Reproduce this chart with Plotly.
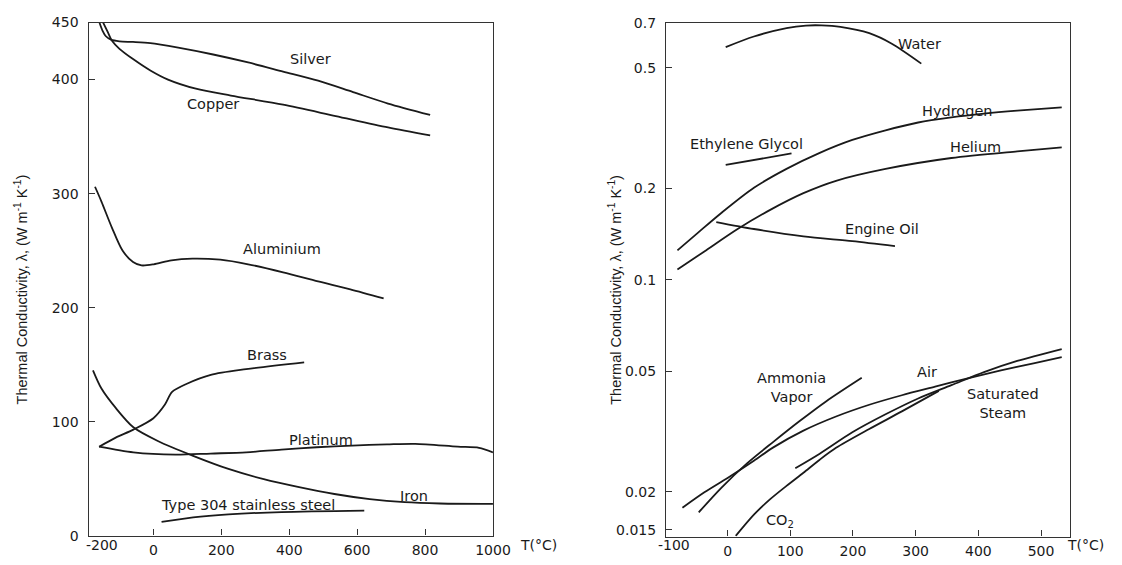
import numpy as np
import plotly.graph_objects as go

# ---------------- Left panel: metals (linear) ----------------
silver_T = [-159, -150, -140, -125, -100, -60, -9, 73, 176, 279, 382, 485, 588, 691, 815]
silver_k = [450, 443, 438, 435, 433.5, 433, 432, 428, 422, 415, 407, 399, 389, 379, 369]

copper_T = [-148, -135, -122, -100, -60, -9, 43, 125, 228, 382, 537, 691, 815]
copper_k = [450, 442, 434, 427, 418, 408, 400, 392, 386, 378, 368, 358, 351]

alu_T = [-172, -153, -122, -91, -60, -35, 1, 53, 115, 197, 279, 382, 485, 580, 678]
alu_k = [306, 293, 270, 250, 240, 237, 238, 241.5, 243, 242, 238, 231, 223, 216, 208]

brass_T = [-160, -111, -59, 0, 34, 55, 97, 169, 273, 444]
brass_k = [78, 86, 93, 103, 115, 126, 133, 141, 146, 152]

plat_T = [-160, -59, 65, 169, 273, 377, 481, 585, 688, 771, 896, 959, 1000]
plat_k = [78, 73, 71, 72, 73, 75.5, 77.5, 79, 80, 80.5, 78, 77, 73]

iron_T = [-178, -153, -111, -59, 13, 117, 221, 325, 429, 533, 637, 740, 844, 1000]
iron_k = [145, 129, 112, 95, 83, 70, 58.5, 49.5, 42.5, 36.5, 32, 29.3, 28.2, 27.8]

ss_T = [24, 117, 221, 377, 621]
ss_k = [12, 16, 18.6, 20.7, 22]

left_xticks = [0, 200, 400, 600, 800, 1000]
left_yticks = [0, 100, 200, 300, 400, 450]

# ---------------- Right panel: fluids (log) ----------------
water_T = [-3, 42, 94, 125, 150, 180, 226, 262, 309]
water_k = [0.585, 0.634, 0.676, 0.689, 0.690, 0.682, 0.650, 0.600, 0.516]

hyd_T = [-80, -47, -10, 42, 94, 147, 199, 252, 304, 357, 409, 462, 533]
hyd_k = [0.125, 0.143, 0.166, 0.201, 0.232, 0.262, 0.289, 0.311, 0.330, 0.343, 0.353, 0.361, 0.370]

hel_T = [-80, -37, 16, 68, 121, 173, 252, 357, 462, 533]
hel_k = [0.108, 0.124, 0.147, 0.170, 0.193, 0.212, 0.232, 0.252, 0.265, 0.273]

eg_T = [-3, 102]
eg_k = [0.239, 0.261]

oil_T = [-18, 42, 121, 199, 267]
oil_k = [0.155, 0.147, 0.139, 0.134, 0.129]

air_T = [-72, -37, 0, 42, 73, 121, 173, 226, 278, 331, 383, 436, 488, 533]
air_k = [0.0177, 0.0199, 0.0222, 0.0253, 0.0280, 0.0318, 0.0354, 0.0387, 0.0416, 0.0444, 0.0473, 0.0502, 0.0530, 0.0556]

steam_T = [108, 147, 199, 252, 304, 357, 409, 462, 533]
steam_k = [0.0239, 0.0267, 0.0314, 0.0360, 0.0406, 0.0449, 0.0496, 0.0540, 0.0591]

co2_T = [13, 42, 68, 94, 121, 147, 173, 226, 278, 337]
co2_k = [0.0143, 0.0168, 0.0189, 0.0209, 0.0231, 0.0255, 0.0279, 0.0322, 0.0368, 0.0430]

nh3_T = [-46, -10, 31, 73, 115, 157, 214]
nh3_k = [0.0171, 0.0206, 0.0248, 0.0292, 0.0342, 0.0397, 0.0475]

right_xticks = [0, 100, 200, 300, 400, 500]
right_yticks = [0.015, 0.02, 0.05, 0.1, 0.2, 0.5, 0.7]
right_yticktext = ["0.015", "0.02", "0.05", "0.1", "0.2", "0.5", "0.7"]

FONT = "DejaVu Sans, Verdana, sans-serif"
TFONT = "Liberation Sans, Arial, sans-serif"
INK = "#1a1a1a"
W, H = 1122, 565

fig = go.Figure()

line = dict(color=INK, width=1.8, shape="spline", smoothing=0.8)
for T, k in [(silver_T, silver_k), (copper_T, copper_k), (alu_T, alu_k), (brass_T, brass_k),
             (plat_T, plat_k), (iron_T, iron_k), (ss_T, ss_k)]:
    fig.add_trace(go.Scatter(x=T, y=k, mode="lines", line=line, xaxis="x", yaxis="y",
                             showlegend=False, hoverinfo="skip"))

for T, k in [(water_T, water_k), (hyd_T, hyd_k), (hel_T, hel_k), (eg_T, eg_k), (oil_T, oil_k),
             (air_T, air_k), (steam_T, steam_k), (co2_T, co2_k), (nh3_T, nh3_k)]:
    fig.add_trace(go.Scatter(x=T, y=k, mode="lines", line=line, xaxis="x2", yaxis="y2",
                             showlegend=False, hoverinfo="skip"))

axis_common = dict(showline=True, linecolor="#333", linewidth=1.4, mirror=True,
                   ticks="inside", ticklen=6, tickcolor="#333", showgrid=False, zeroline=False,
                   tickfont=dict(family=FONT, size=14, color=INK))

fig.update_layout(
    width=W, height=H, autosize=False,
    margin=dict(l=0, r=0, t=0, b=0),
    paper_bgcolor="white", plot_bgcolor="white",
    xaxis=dict(domain=[90 / W, 501 / W], range=[-191, 1000], tickvals=left_xticks,
               anchor="y", ticklabelstandoff=1, **axis_common),
    yaxis=dict(domain=[1 - 543 / H, 1 - 15 / H], range=[0, 450], tickvals=left_yticks,
               anchor="x", ticklabelstandoff=6, **axis_common),
    xaxis2=dict(domain=[677 / W, 1087 / W], range=[-98, 545.5], tickvals=right_xticks,
                anchor="y2", ticklabelstandoff=1, **axis_common),
    yaxis2=dict(domain=[1 - 544 / H, 1 - 15 / H], type="log", range=[-1.847, -0.152],
                tickvals=right_yticks, ticktext=right_yticktext,
                anchor="x2", ticklabelstandoff=6, **axis_common),
)

lab = dict(family=FONT, size=14.5, color=INK)
annots = []
# Left panel curve labels
for txt, x, y in [("Silver", 463, 418), ("Copper", 176, 379), ("Aluminium", 380, 251),
                  ("Brass", 335, 158), ("Platinum", 495, 84), ("Iron", 768, 35),
                  ("Type 304 stainless steel", 280, 27)]:
    annots.append(dict(x=x, y=y, xref="x", yref="y", text=txt, showarrow=False, font=lab,
                       xanchor="center", yanchor="middle"))
# Right panel curve labels
for txt, x, y in [("Water", 306, 0.598), ("Hydrogen", 367, 0.360), ("Ethylene Glycol", 30, 0.280),
                  ("Helium", 395, 0.274), ("Engine Oil", 247, 0.147),
                  ("Ammonia<br>Vapor", 102, 0.0440), ("Air", 318, 0.0496),
                  ("Saturated<br>Steam", 440, 0.0392), ("CO<sub>2</sub>", 84, 0.0160)]:
    annots.append(dict(x=x, y=float(np.log10(y)), xref="x2", yref="y2", text=txt,
                       showarrow=False, font=lab, xanchor="center", yanchor="middle"))
# Extra axis texts
tick_font = dict(family=FONT, size=14, color=INK)
annots += [
    dict(x=104 / W, y=1 - 553 / H, xref="paper", yref="paper", text="-200", showarrow=False,
         xanchor="center", yanchor="middle", font=tick_font),
    dict(x=526 / W, y=1 - 553 / H, xref="paper", yref="paper", text="T(°C)", showarrow=False,
         xanchor="left", yanchor="middle", font=tick_font),
    dict(x=685 / W, y=1 - 553 / H, xref="paper", yref="paper", text="-100", showarrow=False,
         xanchor="center", yanchor="middle", font=tick_font),
    dict(x=1082 / W, y=1 - 553 / H, xref="paper", yref="paper", text="T(°C)", showarrow=False,
         xanchor="left", yanchor="middle", font=tick_font),
    dict(x=21 / W, y=1 - 290 / H, xref="paper", yref="paper", textangle=-90, showarrow=False,
         xanchor="center", yanchor="middle",
         text="Thermal Conductivity, λ, (W m<sup>-1</sup> K<sup>-1</sup>)",
         font=dict(family=TFONT, size=14.5, color=INK)),
    dict(x=625 / W, y=1 - 290 / H, xref="paper", yref="paper", textangle=-90, showarrow=False,
         xanchor="center", yanchor="middle",
         text="Thermal Conductivity, λ, (W m<sup>-1</sup> K<sup>-1</sup>)",
         font=dict(family=TFONT, size=14.5, color=INK)),
]
fig.update_layout(annotations=annots)

fig.write_html("out.html")
